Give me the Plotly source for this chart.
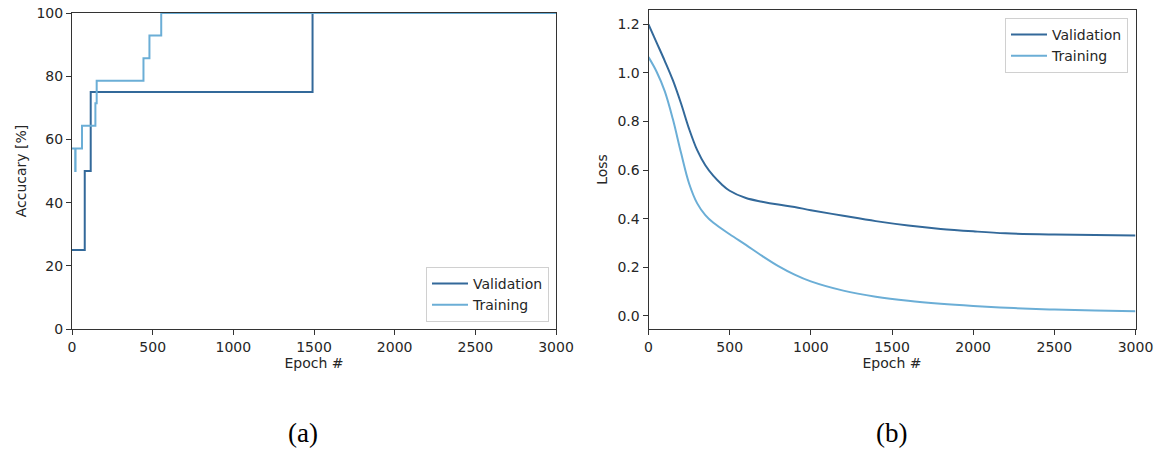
import plotly.graph_objects as go

# ---------------- data ----------------
# (a) accuracy, step curves (epoch where value changes, value in %)
acc_val_epoch = [0, 79, 116, 1491, 3000]
acc_val_value = [25.0, 50.0, 75.0, 100.0, 100.0]

acc_train_epoch = [0, 20, 22, 62, 145, 153, 443, 480, 553, 3000]
acc_train_value = [57.14, 50.0, 57.14, 64.29, 71.43, 78.57, 85.71, 92.86, 100.0, 100.0]

# (b) loss curves
loss_val_epoch = [0, 50, 100, 150, 200, 250, 300, 350, 400, 450, 500, 600, 700, 800, 900,
                  1000, 1200, 1400, 1600, 1800, 2000, 2200, 2500, 3000]
loss_val_value = [1.20, 1.125, 1.05, 0.97, 0.875, 0.77, 0.682, 0.620, 0.576, 0.542, 0.515,
                  0.485, 0.47, 0.458, 0.448, 0.435, 0.412, 0.390, 0.372, 0.358, 0.348,
                  0.340, 0.335, 0.331]

loss_train_epoch = [0, 50, 100, 150, 200, 250, 300, 350, 400, 500, 600, 700, 800, 900,
                    1000, 1200, 1400, 1600, 1800, 2000, 2250, 2500, 2750, 3000]
loss_train_value = [1.065, 1.005, 0.925, 0.81, 0.672, 0.545, 0.463, 0.415, 0.383, 0.336,
                    0.292, 0.247, 0.205, 0.170, 0.142, 0.104, 0.079, 0.062, 0.05, 0.041,
                    0.032, 0.026, 0.022, 0.019]

x_ticks = [0, 500, 1000, 1500, 2000, 2500, 3000]
acc_ticks = [0, 20, 40, 60, 80, 100]
loss_ticks = [0.0, 0.2, 0.4, 0.6, 0.8, 1.0, 1.2]

# ---------------- styling ----------------
W, H = 1162, 449
VAL_C = "#33699a"
TRN_C = "#6baed6"
FONT = "DejaVu Sans"
TXT = "#262626"
FS = 14

fig = go.Figure()

fig.add_trace(go.Scatter(x=acc_val_epoch, y=acc_val_value, mode="lines", line_shape="hv",
                         line=dict(color=VAL_C, width=2), name="Validation",
                         xaxis="x", yaxis="y", legend="legend"))
fig.add_trace(go.Scatter(x=acc_train_epoch, y=acc_train_value, mode="lines", line_shape="hv",
                         line=dict(color=TRN_C, width=2), name="Training",
                         xaxis="x", yaxis="y", legend="legend"))
fig.add_trace(go.Scatter(x=loss_val_epoch, y=loss_val_value, mode="lines", line_shape="spline",
                         line=dict(color=VAL_C, width=2, smoothing=1.0), name="Validation",
                         xaxis="x2", yaxis="y2", legend="legend2"))
fig.add_trace(go.Scatter(x=loss_train_epoch, y=loss_train_value, mode="lines", line_shape="spline",
                         line=dict(color=TRN_C, width=2, smoothing=1.0), name="Training",
                         xaxis="x2", yaxis="y2", legend="legend2"))

axis_common = dict(showline=True, linecolor="#333333", linewidth=1, mirror=True,
                   ticks="outside", ticklen=5, tickcolor="#333333", showgrid=False,
                   zeroline=False, automargin=False,
                   tickfont=dict(family=FONT, size=FS, color=TXT))
title_font = dict(family=FONT, size=FS, color=TXT)

fig.update_layout(
    width=W, height=H,
    margin=dict(l=0, r=0, t=0, b=0, autoexpand=False),
    paper_bgcolor="white", plot_bgcolor="white",
    showlegend=True,
    font=dict(family=FONT, size=FS, color=TXT),
    xaxis=dict(domain=[72 / W, 556 / W], anchor="y", range=[0, 3000], tickvals=x_ticks,
               title=dict(text="Epoch #", font=title_font, standoff=3),
               **axis_common),
    yaxis=dict(domain=[1 - 329 / H, 1 - 13 / H], anchor="x", range=[0, 100], tickvals=acc_ticks,
               title=dict(text="Accucary [%]", font=title_font, standoff=6),
               **axis_common),
    xaxis2=dict(domain=[648.5 / W, 1135.5 / W], anchor="y2", range=[0, 3000], tickvals=x_ticks,
                title=dict(text="Epoch #", font=title_font, standoff=3),
                **axis_common),
    yaxis2=dict(domain=[1 - 329 / H, 1 - 10 / H], anchor="x2", range=[-0.054, 1.259],
                tickvals=loss_ticks, tickformat=".1f",
                title=dict(text="Loss", font=title_font, standoff=6),
                **axis_common),
    legend=dict(x=549 / W, y=1 - 322 / H, xanchor="right", yanchor="bottom",
                bgcolor="rgba(255,255,255,0.8)", bordercolor="#d0d0d0", borderwidth=1,
                font=dict(family=FONT, size=FS, color=TXT), tracegroupgap=0,
                itemwidth=36),
    legend2=dict(x=1128 / W, y=1 - 18 / H, xanchor="right", yanchor="top",
                 bgcolor="rgba(255,255,255,0.8)", bordercolor="#d0d0d0", borderwidth=1,
                 font=dict(family=FONT, size=FS, color=TXT), tracegroupgap=0,
                 itemwidth=36),
    annotations=[
        dict(text="(a)", x=303 / W, y=1 - 433 / H, xref="paper", yref="paper",
             showarrow=False, xanchor="center", yanchor="middle",
             font=dict(family="Liberation Serif", size=27, color="black")),
        dict(text="(b)", x=891 / W, y=1 - 433 / H, xref="paper", yref="paper",
             showarrow=False, xanchor="center", yanchor="middle",
             font=dict(family="Liberation Serif", size=27, color="black")),
    ],
)

fig.write_html("out.html",
               config={"displayModeBar": False},
               post_script="document.body.style.margin='0px';"
                           "document.body.style.overflow='hidden';")
